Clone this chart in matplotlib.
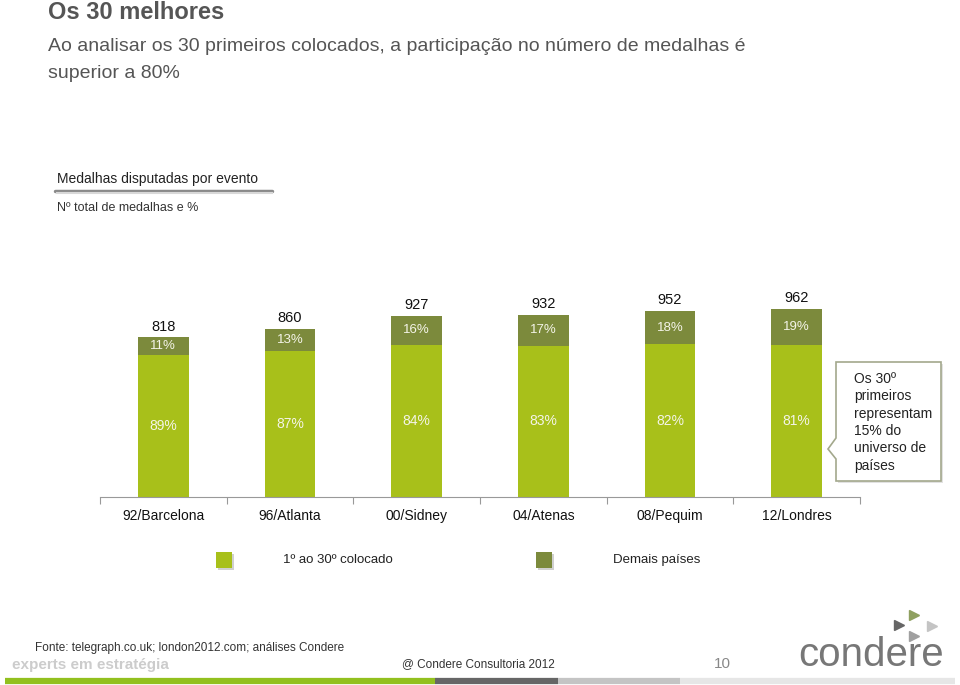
import matplotlib.pyplot as plt
from matplotlib.patches import Polygon, Rectangle

# dados
jogos = ["92/Barcelona", "96/Atlanta", "00/Sidney", "04/Atenas", "08/Pequim", "12/Londres"]
total_medalhas = [818, 860, 927, 932, 952, 962]
pct_top30 = [89, 87, 84, 83, 82, 81]
pct_demais = [11, 13, 16, 17, 18, 19]

VERDE = "#a8c01a"
OLIVA = "#7c8a3c"
CINZA = "#555555"
FONTE = "Liberation Sans"

plt.rcParams["font.family"] = [FONTE, "DejaVu Sans"]

fig = plt.figure(figsize=(9.6, 6.85), dpi=100)

# camada de fundo em pixels para os textos e enfeites
bg = fig.add_axes([0, 0, 1, 1], zorder=0)
bg.set_xlim(0, 960)
bg.set_ylim(685, 0)
bg.axis("off")

bg.text(48, 12, "Os 30 melhores", fontsize=17, fontweight="bold", color=CINZA, va="center")
bg.text(48, 46, "Ao analisar os 30 primeiros colocados, a participação no número de medalhas é",
        fontsize=14, color=CINZA, va="center")
bg.text(48, 73, "superior a 80%", fontsize=14, color=CINZA, va="center")

bg.text(57, 179, "Medalhas disputadas por evento", fontsize=10, color="#222222", va="center")
bg.plot([55, 272], [191, 191], color="#8a8a8a", lw=2.5, solid_capstyle="round")
bg.plot([57, 272], [193, 193], color="#d8d8d8", lw=1.5)
bg.text(57, 208, "Nº total de medalhas e %", fontsize=9, color="#333333", va="center")

# caixa de comentário
caixa = Polygon([(836, 362), (941, 362), (941, 481), (836, 481), (836, 459), (828, 449), (836, 438)],
                closed=True, facecolor="white", edgecolor="#a3a88c", lw=1.2)
bg.add_patch(Polygon([(838, 364), (943, 364), (943, 483), (838, 483)], closed=True,
                     facecolor="#e2e2e2", edgecolor="none"))
bg.add_patch(caixa)
bg.text(854, 372, "Os 30º\nprimeiros\nrepresentam\n15% do\nuniverso de\npaíses",
        fontsize=10, color="#222222", va="top", linespacing=1.3)

# legenda
bg.add_patch(Rectangle((218, 554), 16, 16, facecolor="#d0d0d0", edgecolor="none"))
bg.add_patch(Rectangle((216, 552), 16, 16, facecolor=VERDE, edgecolor="none"))
bg.text(283, 560, "1º ao 30º colocado", fontsize=9.5, color="#222222", va="center")
bg.add_patch(Rectangle((538, 554), 16, 16, facecolor="#d0d0d0", edgecolor="none"))
bg.add_patch(Rectangle((536, 552), 16, 16, facecolor=OLIVA, edgecolor="none"))
bg.text(613, 560, "Demais países", fontsize=9.5, color="#222222", va="center")

# rodapé
bg.text(35, 648, "Fonte: telegraph.co.uk; london2012.com; análises Condere", fontsize=8.5,
        color="#333333", va="center")
bg.text(12, 665, "experts em estratégia", fontsize=11, fontweight="bold", color="#cccccc", va="center")
bg.text(402, 664, "@ Condere Consultoria 2012", fontsize=8.5, color="#333333", va="center")
bg.text(714, 664, "10", fontsize=11, color="#888888", va="center")
bg.text(798, 655, "condere", fontsize=29, color="#777777", va="center")
bg.plot([899], [625], marker=">", ms=7, color="#666666", ls="none")
bg.plot([914], [615], marker=">", ms=7, color="#8fa060", ls="none")
bg.plot([932], [626], marker=">", ms=7, color="#c4c4c4", ls="none")
bg.plot([914], [636], marker=">", ms=7, color="#a0a0a0", ls="none")
bg.plot([5, 435], [681, 681], color="#92c01e", lw=4.5, solid_capstyle="butt")
bg.plot([435, 558], [681, 681], color="#666666", lw=4.5, solid_capstyle="butt")
bg.plot([558, 680], [681, 681], color="#c4c4c4", lw=4.5, solid_capstyle="butt")
bg.plot([680, 955], [681, 681], color="#e6e6e6", lw=4.5, solid_capstyle="butt")

# gráfico de barras
ax = fig.add_axes([100 / 960, (685 - 497) / 685, 760 / 960, 200 / 685], zorder=1)
ax.patch.set_alpha(0)
x = list(range(len(jogos)))
base = [t * p / 100 for t, p in zip(total_medalhas, pct_top30)]
topo = [t - b for t, b in zip(total_medalhas, base)]
ax.bar(x, base, width=0.4, color=VERDE)
ax.bar(x, topo, width=0.4, bottom=base, color=OLIVA)

for i in x:
    ax.text(i, base[i] / 2, f"{pct_top30[i]}%", ha="center", va="center", fontsize=10, color="#f4f4e8")
    ax.text(i, base[i] + topo[i] / 2, f"{pct_demais[i]}%", ha="center", va="center", fontsize=9.5,
            color="#f4f4e8")
    ax.annotate(str(total_medalhas[i]), (i, total_medalhas[i]), xytext=(0, 2.5), textcoords="offset points",
                ha="center", va="bottom", fontsize=10.5, color="#111111")
    ax.text(i, -23 / 200, jogos[i], transform=ax.get_xaxis_transform(), ha="center", va="baseline",
            fontsize=10, color="#111111")

ax.set_xlim(-0.5, 5.5)
ax.set_ylim(0, 200 / 0.1955)
ax.set_yticks([])
for lado in ["left", "right", "top"]:
    ax.spines[lado].set_visible(False)
ax.spines["bottom"].set_color("#999999")
ax.set_xticks([i - 0.5 for i in range(7)])
ax.set_xticklabels([])
ax.tick_params(axis="x", length=5, color="#999999", direction="out")

fig.savefig("out.png", dpi=100)
